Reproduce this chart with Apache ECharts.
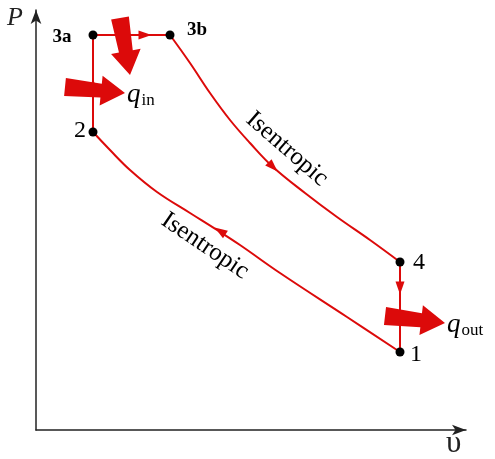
<!DOCTYPE html>
<html>
<head>
<meta charset="utf-8">
<script src="https://cdn.jsdelivr.net/npm/echarts@6/dist/echarts.min.js"></script>
<style>
  html, body { margin: 0; padding: 0; background: #fff; }
  #chart { width: 495px; height: 459px; }
</style>
</head>
<body>
<div id="chart"></div>
<script>
// state points of the cycle (v, P in arbitrary diagram units)
var stateNames = ['1', '2', '3a', '3b', '4'];
var stateV = [364, 57, 57, 134, 364];
var stateP = [78, 298, 395, 395, 168];

// isentropic expansion 3b -> 4
var expansionV = [134, 154, 174, 194, 214, 237, 269, 301, 334, 364];
var expansionP = [395, 367, 337, 310, 287, 263, 237, 213, 190, 168];

// isentropic compression 1 -> 2
var compressionV = [57, 74, 94, 121, 154, 181, 204, 244, 311, 364];
var compressionP = [298, 280, 260, 238, 217, 200, 185, 157, 113, 78];

// small direction arrows on the path
var flowV = [57, 109, 237, 184, 364];
var flowP = [345, 395, 263, 199, 142];
var flowAngle = [0, -90, -135, 57, 180];

// heat arrows: tail (v,P) -> tip (v,P)
var heatTailV = [29, 84, 349];
var heatTailP = [343, 412, 114];
var heatTipV = [89, 94, 409];
var heatTipP = [337, 355, 107];

// text labels
var labelText = ['3a', '3b', '2', '4', '1', 'qin', 'qout', 'Isentropic', 'Isentropic'];
var labelV = [26, 161, 44, 383, 380, 91, 411, 251, 169];
var labelP = [393, 400, 299, 167, 75, 335, 105, 281, 184];

var red = '#dc0a0a';
var serif = '"Liberation Serif", "DejaVu Serif", serif';

function pairs(xs, ys) {
  return xs.map(function (x, i) { return [x, ys[i]]; });
}

var chart = echarts.init(document.getElementById('chart'));

var pathSegments = [
  pairs([stateV[1], stateV[2]], [stateP[1], stateP[2]]),   // 2 -> 3a
  pairs([stateV[2], stateV[3]], [stateP[2], stateP[3]]),   // 3a -> 3b
  pairs([stateV[4], stateV[0]], [stateP[4], stateP[0]])    // 4 -> 1
];

var series = [];
pathSegments.forEach(function (seg) {
  series.push({
    type: 'line', data: seg, symbol: 'none', silent: true,
    lineStyle: { color: red, width: 2 }, z: 3
  });
});
series.push({
  type: 'line', data: pairs(expansionV, expansionP), smooth: 0.4,
  symbol: 'none', lineStyle: { color: red, width: 2 }, z: 3
});
series.push({
  type: 'line', data: pairs(compressionV, compressionP), smooth: 0.4,
  symbol: 'none', lineStyle: { color: red, width: 2 }, z: 3
});

// heat transfer arrows
series.push({
  type: 'custom',
  clip: false,
  z: 4,
  data: heatTailV.map(function (v, i) {
    return [v, heatTailP[i], heatTipV[i], heatTipP[i]];
  }),
  encode: { x: [0, 2], y: [1, 3] },
  renderItem: function (params, api) {
    var a = api.coord([api.value(0), api.value(1)]);
    var b = api.coord([api.value(2), api.value(3)]);
    var dx = b[0] - a[0], dy = b[1] - a[1];
    var len = Math.sqrt(dx * dx + dy * dy);
    var ux = dx / len, uy = dy / len, nx = -uy, ny = ux;
    var tw = 18, sw = 14, hw = 30, hl = 24;
    var hb = [b[0] - ux * hl, b[1] - uy * hl];
    var pts = [
      [a[0] + nx * tw / 2, a[1] + ny * tw / 2],
      [hb[0] + nx * sw / 2, hb[1] + ny * sw / 2],
      [hb[0] + nx * hw / 2, hb[1] + ny * hw / 2],
      b,
      [hb[0] - nx * hw / 2, hb[1] - ny * hw / 2],
      [hb[0] - nx * sw / 2, hb[1] - ny * sw / 2],
      [a[0] - nx * tw / 2, a[1] - ny * tw / 2]
    ];
    return { type: 'polygon', shape: { points: pts }, style: { fill: red } };
  }
});

// flow direction triangles
series.push({
  type: 'scatter',
  clip: false,
  z: 5,
  symbol: 'triangle',
  symbolSize: [9, 13],
  itemStyle: { color: red, opacity: 1 },
  data: flowV.map(function (v, i) {
    return { value: [v, flowP[i]], symbolRotate: flowAngle[i] };
  })
});

// state points
series.push({
  type: 'scatter',
  clip: false,
  z: 6,
  symbolSize: 9,
  itemStyle: { color: '#000', opacity: 1 },
  data: pairs(stateV, stateP)
});

// text labels
var labelStyles = {
  '3a': { fontWeight: 'bold', fontSize: 19 },
  '3b': { fontWeight: 'bold', fontSize: 19 },
  'qin': { formatter: '{q|q}{s|in}', position: 'right' },
  'qout': { formatter: '{q|q}{s|out}', position: 'right' },
  'Isentropic': { fontSize: 25 }
};
series.push({
  type: 'scatter',
  clip: false,
  z: 7,
  symbolSize: 0,
  itemStyle: { color: 'transparent', opacity: 1 },
  data: labelText.map(function (t, i) {
    var st = labelStyles[t] || {};
    var lab = {
      show: true, position: st.position || 'inside', distance: 0,
      formatter: st.formatter || t,
      color: '#000', fontFamily: serif,
      textBorderWidth: 0,
      fontSize: st.fontSize || 24, fontWeight: st.fontWeight || 'normal',
      rich: {
        q: { fontFamily: serif, fontStyle: 'italic', fontSize: 27, color: '#000' },
        s: { fontFamily: serif, fontSize: 17, color: '#000', padding: [11, 0, 0, 1] }
      }
    };
    if (t === 'Isentropic') {
      lab.rotate = i === 7 ? -41 : -34;
    }
    return { value: [labelV[i], labelP[i]], label: lab };
  })
});

var axisStyle = {
  type: 'value',
  axisLine: {
    show: true, symbol: ['none', 'arrow'], symbolSize: [8, 14],
    lineStyle: { color: '#222', width: 1.5 }
  },
  axisTick: { show: false },
  axisLabel: { show: false },
  splitLine: { show: false }
};

chart.setOption({
  animation: false,
  grid: { left: 36, top: 10, width: 430, height: 420 },
  xAxis: Object.assign({}, axisStyle, { min: 0, max: 430 }),
  yAxis: Object.assign({}, axisStyle, { min: 0, max: 420 }),
  graphic: [
    { type: 'text', left: 7, top: 5,
      style: { text: 'P', font: 'italic 26px ' + serif, fill: '#222' } },
    { type: 'text', left: 446, top: 428,
      style: { text: 'υ', font: '31px ' + serif, fill: '#222' } }
  ],
  series: series
});
</script>
</body>
</html>
